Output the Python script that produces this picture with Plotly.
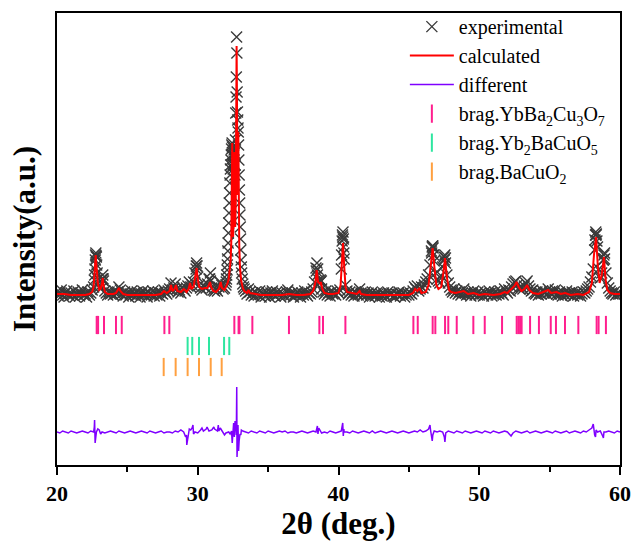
import numpy as np
import plotly.graph_objects as go

# ---------------- data (intensity in arbitrary units) ----------------
# experimental pattern on a 0.1 deg scan grid, 20.0 ... 60.0 (None = covered by fine scan)
obs_grid = [
    173, 169, 172, 175, 170, 168, 172, 174, 171, 169,   # 20
    172, 170, 174, 168, 171, 173, 169, 172, 175, 170,   # 21
    171, 168, 173, 170, 172, 175, 178, 196, 208, 186,   # 22
    178, 176, 186, 184, 174, 172, 170, 173, 171, 172,   # 23
    170, 174, 171, 173, 178, 175, 171, 169, 173, 170,   # 24
    172, 168, 171, 174, 170, 172, 169, 173, 171, 168,   # 25
    171, 174, 170, 172, 168, 173, 171, 170, 174, 169,   # 26
    172, 170, 173, 169, 172, 171, 175, 173, 171, 174,   # 27
    176, 182, 175, 177, 181, 176, 173, 175, 172, 178,   # 28
    176, 174, 177, 179, 183, 178, 180, 183, 192, 199,   # 29
    188, 180, 177, 175, 179, 178, 177, 181, 186, 184,   # 30
    177, 175, 174, 176, 174, 178, 183, 180, 176, 177,   # 31
    None, None, None, None, None, None, None, None, None, None,  # 32
    None, None, None, None, 174, 171, 176, 173, 170, 172,   # 33
    169, 173, 171, 170, 174, 168, 172, 171, 169, 173,   # 34
    171, 168, 172, 174, 170, 169, 173, 171, 172, 168,   # 35
    172, 170, 169, 173, 175, 171, 170, 172, 168, 171,   # 36
    170, 173, 171, 168, 172, 170, 174, 171, 169, 172,   # 37
    171, 173, 176, 183, 197, 190, 185, 183, 176, 173,   # 38
    171, 174, 170, 172, 169, 173, 171, 172, 170, 174,   # 39
    172, 175, 196, 228, 206, 180, 174, 171, 173, 170,   # 40
    172, 169, 173, 171, 170, 176, 172, 169, 171, 173,   # 41
    170, 172, 168, 171, 173, 170, 169, 172, 171, 168,   # 42
    171, 169, 172, 170, 168, 173, 171, 170, 172, 169,   # 43
    168, 171, 170, 173, 169, 171, 172, 168, 170, 172,   # 44
    170, 172, 171, 174, 178, 176, 179, 174, 176, 178,   # 45
    177, 180, 183, 186, 190, 200, 214, 219, 204, 192,   # 46
    186, 184, 182, 189, 198, 208, 202, 190, 182, 178,   # 47
    175, 173, 176, 172, 174, 171, 173, 170, 172, 176,   # 48
    172, 170, 173, 171, 169, 172, 174, 170, 171, 173,   # 49
    170, 172, 171, 169, 173, 171, 170, 174, 172, 169,   # 50
    171, 173, 170, 172, 171, 174, 172, 170, 176, 174,   # 51
    172, 175, 174, 178, 181, 183, 184, 180, 177, 176,   # 52
    178, 176, 179, 182, 184, 179, 176, 174, 175, 172,   # 53
    171, 173, 170, 172, 171, 174, 172, 173, 171, 176,   # 54
    173, 171, 174, 172, 175, 171, 170, 173, 171, 169,   # 55
    172, 170, 174, 171, 172, 170, 173, 169, 171, 172,   # 56
    170, 172, 169, 171, 173, 172, 174, 176, 178, 183,   # 57
    188, 196, 215, 230, 218, 196, 187, 192, 205, 212,   # 58
    192, 182, 177, 174, 172, 171, 173, 170, 172, 171,   # 59
    171,                                                # 60
]

# extra, finer-stepped experimental points across the peaks
obs_fine_x = [
    22.65, 22.68, 22.72, 22.74, 22.76, 22.78, 22.82, 22.85, 23.22, 23.25, 23.28,
    29.88, 29.92, 29.95, 30.85, 30.90,
    32.00, 32.02, 32.04, 32.06, 32.08, 32.10, 32.12, 32.14, 32.16, 32.18,
    32.20, 32.22, 32.24, 32.26, 32.28, 32.30, 32.32, 32.34, 32.36, 32.38,
    32.40, 32.42, 32.44, 32.46, 32.48, 32.50, 32.52, 32.54, 32.56, 32.58,
    32.60, 32.62, 32.64, 32.66, 32.68, 32.70, 32.72, 32.74, 32.76, 32.78,
    32.80, 32.82, 32.84, 32.86, 32.88, 32.90, 32.92, 32.94, 32.96, 32.98,
    33.00, 33.02, 33.04, 33.06, 33.08, 33.10, 33.12, 33.16, 33.20, 33.25, 33.30,
    38.42, 38.47, 38.52, 38.72, 38.78,
    40.22, 40.26, 40.28, 40.32, 40.34, 40.36, 40.38,
    46.62, 46.66, 46.68, 46.72, 46.76, 47.52, 47.55, 47.60,
    58.22, 58.26, 58.28, 58.32, 58.36, 58.82, 58.86, 58.90,
]
obs_fine_y = [
    185, 190, 205, 210, 212, 209, 200, 192, 186, 190, 186,
    196, 202, 199, 186, 192,
    180, 183, 186, 190, 195, 200, 206, 214, 222, 232,
    242, 252, 262, 272, 282, 290, 296, 300, 305, 310,
    316, 320, 322, 318, 310, 300, 296, 302, 310, 315,
    312, 300, 290, 300, 325, 352, 368, 388, 428, 412,
    373, 353, 345, 337, 333, 320, 305, 290, 275, 262,
    250, 238, 226, 215, 205, 198, 192, 186, 181, 178, 176,
    194, 202, 196, 185, 184,
    210, 224, 230, 233, 226, 218, 212,
    212, 218, 219, 217, 210, 205, 210, 207,
    225, 230, 233, 231, 224, 205, 210, 206,
]

# calculated profile
calc_x = [
    20.0, 20.5, 21.0, 21.5, 22.0, 22.3, 22.5, 22.6, 22.7, 22.75, 22.8, 22.9, 23.0, 23.1,
    23.2, 23.25, 23.3, 23.4, 23.6, 24.0, 24.2, 24.4, 24.5, 24.7, 25.0, 25.5, 26.0, 26.5,
    27.0, 27.4, 27.6, 27.8, 28.0, 28.1, 28.2, 28.35, 28.45, 28.55, 28.8, 29.0, 29.1, 29.2,
    29.35, 29.45, 29.55, 29.7, 29.85, 29.92, 30.0, 30.1, 30.3, 30.5, 30.7, 30.87, 30.95,
    31.1, 31.3, 31.5, 31.63, 31.72, 31.9,
    32.00, 32.10, 32.20, 32.28, 32.34, 32.38, 32.42, 32.45, 32.48, 32.51, 32.54, 32.57,
    32.60, 32.63, 32.66, 32.70, 32.73, 32.76, 32.79, 32.82, 32.85, 32.88, 32.91, 32.95,
    33.00, 33.08, 33.20, 33.30, 33.5, 33.6, 33.7, 34.0, 34.5, 35.0, 35.5, 36.0, 36.5,
    37.0, 37.5, 38.0, 38.2, 38.35, 38.45, 38.55, 38.7, 38.75, 38.85, 39.0, 39.3, 39.6,
    40.0, 40.15, 40.25, 40.32, 40.4, 40.5, 40.6, 41.0, 41.3, 41.5, 41.6, 42.0, 43.0,
    44.0, 44.5, 45.0, 45.3, 45.45, 45.6, 45.75, 45.9, 46.2, 46.4, 46.55, 46.69, 46.8,
    46.95, 47.1, 47.3, 47.45, 47.57, 47.7, 47.85, 48.0, 48.3, 48.9, 49.2, 49.6, 50.0,
    50.4, 51.0, 51.5, 51.8, 52.0, 52.3, 52.5, 52.65, 52.8, 53.0, 53.2, 53.4, 53.55,
    53.8, 54.2, 54.9, 55.1, 55.5, 55.8, 56.1, 56.5, 57.0, 57.4, 57.8, 58.0, 58.15,
    58.3, 58.42, 58.55, 58.7, 58.86, 58.98, 59.1, 59.3, 59.6, 60.0,
]
calc_y = [
    171, 171, 170, 170, 170, 171, 173, 178, 195, 210, 200, 182, 175, 176,
    182, 187, 180, 173, 171, 171, 172, 177, 174, 171, 170, 170, 170, 170,
    170, 171, 174, 172, 174, 180, 174, 176, 180, 174, 173, 176, 175, 173,
    176, 182, 176, 178, 190, 197, 186, 178, 176, 177, 177, 183, 178,
    174, 173, 176, 183, 177, 175,
    178, 181, 186, 194, 205, 222, 270, 322, 265, 228, 240, 280,
    313, 262, 238, 262, 330, 419, 360, 270, 290, 333, 265, 220,
    198, 185, 177, 174, 172, 175, 172, 171, 170, 170, 170, 170, 171,
    170, 170, 171, 174, 182, 195, 183, 181, 183, 176, 172, 171, 171,
    172, 180, 205, 222, 200, 178, 173, 172, 171, 174, 171, 170, 170,
    170, 170, 170, 172, 176, 174, 177, 172, 173, 180, 200, 217, 200,
    180, 176, 178, 192, 207, 188, 175, 173, 172, 174, 171, 172, 170,
    171, 170, 171, 173, 172, 176, 179, 183, 178, 174, 176, 180, 175,
    172, 171, 175, 172, 173, 171, 172, 170, 171, 170, 173, 182, 210,
    228, 200, 182, 190, 208, 185, 175, 172, 171, 171,
]

# difference curve (already shifted below the pattern), 0.2 deg grid 20.0 ... 60.0
diff_grid = [
    33, 32, 34, 33, 32,   # 20
    34, 33, 32, 33, 34,   # 21
    33, 32, 34, 33, 33,   # 22
    35, 33, 32, 33, 34,   # 23
    33, 32, 34, 33, 32,   # 24
    33, 34, 33, 32, 33,   # 25
    34, 33, 32, 34, 33,   # 26
    32, 33, 34, 32, 33,   # 27
    33, 32, 34, 33, 35,   # 28
    33, 30, 36, 37, 33,   # 29
    32, 35, 34, 36, 34,   # 30
    35, 36, 34, 37, 33,   # 31
    32, 33, 34, 28, 18,   # 32
    31, 34, 33, 32, 34,   # 33
    33, 32, 34, 33, 32,   # 34
    34, 33, 32, 33, 34,   # 35
    33, 34, 32, 33, 33,   # 36
    32, 33, 34, 33, 32,   # 37
    33, 34, 33, 37, 32,   # 38
    33, 32, 34, 33, 32,   # 39
    33, 34, 33, 33, 32,   # 40
    34, 33, 32, 33, 34,   # 41
    33, 32, 34, 32, 33,   # 42
    34, 33, 32, 33, 34,   # 43
    33, 32, 33, 34, 33,   # 44
    32, 33, 34, 33, 35,   # 45
    33, 34, 36, 27, 34,   # 46
    33, 34, 33, 31, 34,   # 47
    33, 32, 34, 33, 32,   # 48
    34, 33, 32, 33, 34,   # 49
    33, 32, 34, 33, 32,   # 50
    34, 33, 32, 33, 34,   # 51
    33, 30, 32, 34, 33,   # 52
    32, 33, 34, 32, 33,   # 53
    34, 33, 32, 33, 34,   # 54
    33, 32, 34, 33, 32,   # 55
    33, 34, 32, 33, 34,   # 56
    33, 32, 34, 33, 35,   # 57
    37, 30, 33, 34, 28,   # 58
    33, 34, 33, 32, 34,   # 59
    33,                   # 60
]
diff_spike_x = [
    22.65, 22.67, 22.71, 22.74, 22.9, 23.1, 29.14, 29.22, 29.3, 29.5, 29.66, 29.7,
    30.3, 30.66, 31.14, 31.46, 31.5, 31.9, 32.3, 32.45, 32.5, 32.55, 32.65, 32.7,
    32.74, 32.77, 32.79, 32.83, 32.86, 32.9, 32.94, 32.98, 33.06, 33.1, 38.5, 38.54,
    40.3, 40.34, 40.38, 46.5, 46.54, 46.66, 46.7, 47.52, 47.56, 47.62, 52.26,
    58.1, 58.14, 58.26, 58.3, 58.82, 58.86,
]
diff_spike_y = [
    38, 45, 22, 29, 36, 31, 28, 20, 30, 35, 40, 31,
    37, 38, 38, 40, 34, 30, 31, 22, 38, 42, 44, 42,
    30, 78, 8, 22, 40, 14, 24, 29, 30, 35, 39, 31,
    42, 29, 36, 40, 35, 24, 30, 28, 23, 32, 29,
    41, 36, 28, 35, 27, 33,
]

# Bragg reflection positions (2theta, deg)
bragg_ybco = [22.82, 22.92, 23.34, 24.19, 24.60, 27.63, 27.98, 32.60, 32.90, 32.96,
              33.88, 36.48, 38.64, 38.90, 40.49, 45.32, 45.63, 46.69, 46.88, 47.57,
              47.80, 48.40, 49.58, 50.39, 51.62, 52.66, 52.78, 52.90, 53.01, 53.61,
              54.24, 55.08, 55.45, 56.09, 57.04, 58.34, 58.48, 59.00]
bragg_211 = [29.28, 29.61, 30.09, 30.80, 31.87, 32.24]
bragg_bacuo2 = [27.58, 28.43, 29.28, 30.09, 30.92, 31.70]
bragg_levels = [140, 119, 98]

# ---------------- assemble ----------------
grid_x = np.round(20 + 0.1 * np.arange(len(obs_grid)), 2)
ox = [x for x, y in zip(grid_x, obs_grid) if y is not None] + obs_fine_x
oy = [y for y in obs_grid if y is not None] + obs_fine_y

dgx = list(np.round(20 + 0.2 * np.arange(len(diff_grid)), 2)) + diff_spike_x
dgy = list(diff_grid) + diff_spike_y
order = np.argsort(dgx)
dx = [dgx[i] for i in order]
dy = [dgy[i] for i in order]

FONT = "Liberation Serif, Times New Roman, serif"

fig = go.Figure()
fig.add_trace(go.Scatter(
    x=ox, y=oy, mode="markers", name="experimental",
    marker=dict(symbol="x-thin-open", size=11, color="#3a3a3a",
                line=dict(width=1.4, color="#3a3a3a"))))
fig.add_trace(go.Scatter(
    x=calc_x, y=calc_y, mode="lines", name="calculated",
    line=dict(color="#ff0000", width=2)))
fig.add_trace(go.Scatter(
    x=dx, y=dy, mode="lines", name="different",
    line=dict(color="#7f00ff", width=1.5)))

bragg_sets = [
    (bragg_ybco, "brag.YbBa<sub>2</sub>Cu<sub>3</sub>O<sub>7</sub>", "#ff1f8e"),
    (bragg_211, "brag.Yb<sub>2</sub>BaCuO<sub>5</sub>", "#2ee6a0"),
    (bragg_bacuo2, "brag.BaCuO<sub>2</sub>", "#ffa040"),
]
for (pos, label, col), lev in zip(bragg_sets, bragg_levels):
    fig.add_trace(go.Scatter(
        x=pos, y=[lev] * len(pos), mode="markers", name=label,
        marker=dict(symbol="line-ns-open", size=13, color=col,
                    line=dict(width=2, color=col))))

fig.update_layout(
    width=634, height=543,
    margin=dict(l=57, r=14, t=13, b=78, autoexpand=False),
    paper_bgcolor="white", plot_bgcolor="white",
    font=dict(family=FONT, color="black"),
    showlegend=True,
    legend=dict(x=0.982, xanchor="right", y=1.013, yanchor="top",
                bgcolor="rgba(0,0,0,0)", font=dict(family=FONT, size=20, color="black"),
                tracegroupgap=0, itemwidth=44),
    xaxis=dict(range=[20, 60], tickvals=[20, 30, 40, 50, 60],
               ticks="outside", ticklen=8, tickwidth=2, tickcolor="black",
               minor=dict(tickvals=[25, 35, 45, 55], ticks="outside", ticklen=5,
                          tickwidth=2, tickcolor="black"),
               showline=True, linecolor="black", linewidth=2, mirror=True,
               showgrid=False, zeroline=False, automargin=False,
               tickfont=dict(family=FONT, size=22, weight="bold", color="black"),
               title=dict(text="2θ (deg.)", standoff=4,
                          font=dict(family=FONT, size=31, weight="bold", color="black"))),
    yaxis=dict(range=[0, 452], showticklabels=False, ticks="",
               showline=True, linecolor="black", linewidth=2, mirror=True,
               showgrid=False, zeroline=False, automargin=False,
               title=dict(text="Intensity(a.u.)", standoff=10,
                          font=dict(family=FONT, size=31, weight="bold", color="black"))),
)

fig.write_html("out.html")
